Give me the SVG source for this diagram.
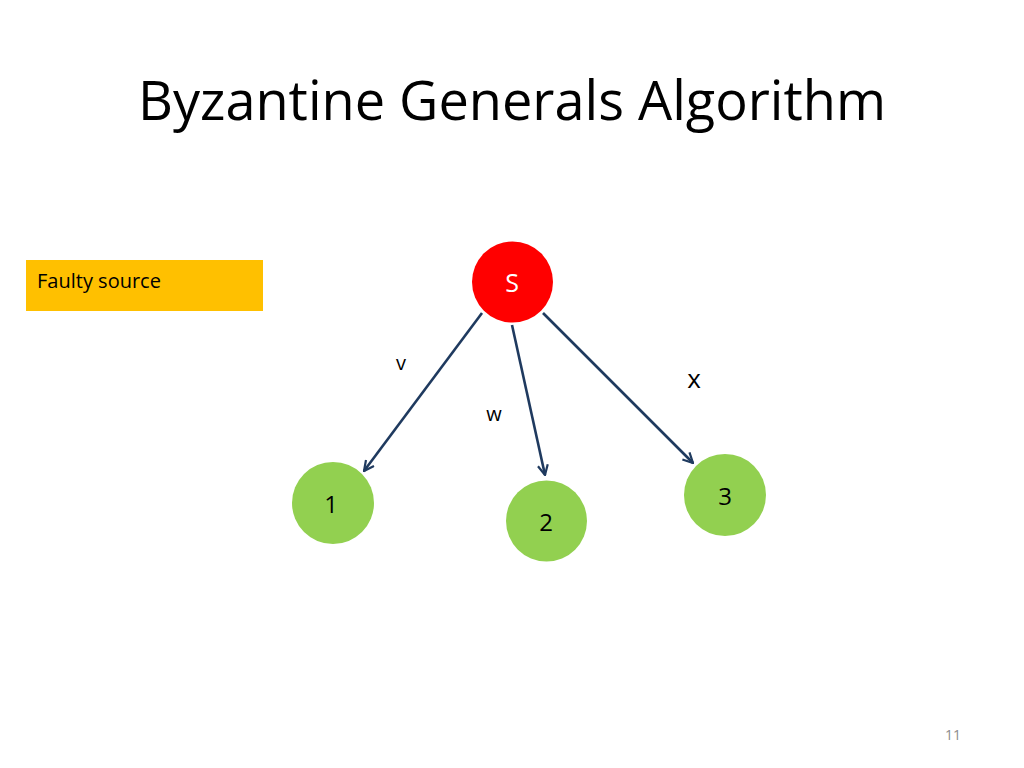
<svg xmlns="http://www.w3.org/2000/svg" width="1024" height="768" viewBox="0 0 1024 768">
<defs>
<marker id="arr" viewBox="0 0 12 12" refX="11" refY="6" markerWidth="12" markerHeight="12" markerUnits="userSpaceOnUse" orient="auto">
<path d="M1,1 L11,6 L1,11" fill="none" stroke="#1F3A5F" stroke-width="2.2"/>
</marker>
</defs>
<style>
.t{font-family:"Open Sans","Liberation Sans",sans-serif;}
.edge{stroke:#1F3A5F;stroke-width:2.6;fill:none;marker-end:url(#arr);}
.gen{fill:#92D050;}
.num{font-size:24px;fill:#000;text-anchor:middle;}
.lbl{font-size:20px;fill:#000;text-anchor:middle;}
</style>
<rect width="1024" height="768" fill="#fff"/>
<text class="t" x="512" y="120" font-size="54" text-anchor="middle" textLength="748" lengthAdjust="spacingAndGlyphs">Byzantine Generals Algorithm</text>
<g id="faulty">
<rect x="26" y="260" width="237" height="51" fill="#FFC000"/>
<text class="t" x="37" y="288" font-size="20">Faulty source</text>
</g>
<g id="connectors">
<line class="edge" x1="482" y1="313" x2="364" y2="471"/>
<line class="edge" x1="512" y1="325" x2="545" y2="475"/>
<line class="edge" x1="543" y1="313" x2="693" y2="463"/>
<text class="t lbl" x="401" y="370">v</text>
<text class="t lbl" x="494" y="421">w</text>
<text class="t" x="694" y="388" font-size="26" text-anchor="middle">x</text>
</g>
<g id="S">
<circle cx="512.5" cy="282" r="40.5" fill="#FF0000"/>
<text class="t" x="512" y="292" font-size="25" fill="#fff" text-anchor="middle">S</text>
</g>
<g id="n1">
<circle class="gen" cx="333" cy="503" r="41"/>
<text class="t num" x="331" y="513">1</text>
</g>
<g id="n2">
<circle class="gen" cx="546.5" cy="521" r="40.5"/>
<text class="t num" x="546" y="531">2</text>
</g>
<g id="n3">
<circle class="gen" cx="725" cy="495" r="41"/>
<text class="t num" x="725" y="505">3</text>
</g>
<text class="t" x="953" y="740" font-size="14" fill="#8C8C8C" text-anchor="middle">11</text>
</svg>
